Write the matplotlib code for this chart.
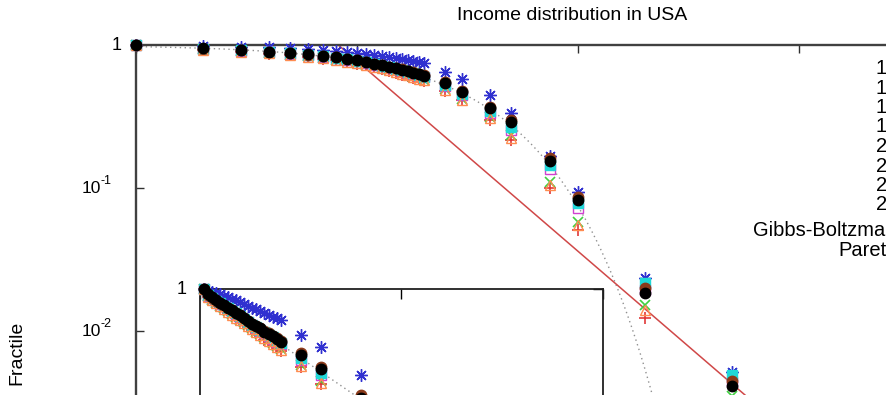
import numpy as np
import matplotlib.pyplot as plt
from matplotlib.ticker import NullLocator, FixedLocator
from matplotlib.transforms import blended_transform_factory

plt.rcParams['font.family'] = ['Liberation Sans', 'DejaVu Sans']

# income brackets (k$)
income = [1, 2, 3, 4, 5, 6, 7, 8, 9, 10, 11, 12, 13, 14, 15, 16, 17, 18, 19, 20,
          25, 30, 40, 50, 75, 100, 200, 500]

# cumulative fraction of returns above each bracket, per tax year
frac_1996 = [1.0, 0.93, 0.90, 0.87, 0.845, 0.825, 0.80, 0.78, 0.76, 0.74, 0.72, 0.70, 0.68, 0.66,
             0.64, 0.62, 0.605, 0.59, 0.575, 0.56, 0.48, 0.41, 0.30, 0.217, 0.10, 0.051, 0.0123, 0.0028]
frac_1997 = [1.0, 0.935, 0.905, 0.88, 0.855, 0.835, 0.815, 0.79, 0.77, 0.75, 0.73, 0.71, 0.69, 0.67,
             0.655, 0.635, 0.62, 0.60, 0.585, 0.57, 0.49, 0.42, 0.315, 0.235, 0.11, 0.058, 0.0152, 0.0035]
frac_1998 = [1.0, 0.985, 0.975, 0.965, 0.95, 0.94, 0.925, 0.91, 0.90, 0.885, 0.87, 0.855, 0.84, 0.825,
             0.81, 0.80, 0.785, 0.77, 0.76, 0.748, 0.647, 0.578, 0.445, 0.335, 0.168, 0.094, 0.0235, 0.0052]
frac_1999 = [1.0, 0.94, 0.915, 0.89, 0.87, 0.85, 0.83, 0.81, 0.79, 0.77, 0.75, 0.73, 0.71, 0.69,
             0.675, 0.66, 0.64, 0.625, 0.61, 0.595, 0.515, 0.445, 0.335, 0.255, 0.135, 0.072, 0.0195, 0.0044]
frac_2000 = [1.0, 0.945, 0.92, 0.895, 0.875, 0.855, 0.835, 0.815, 0.795, 0.775, 0.755, 0.735, 0.715, 0.70,
             0.68, 0.665, 0.65, 0.635, 0.62, 0.60, 0.525, 0.455, 0.345, 0.265, 0.145, 0.078, 0.0215, 0.0049]
frac_2001 = [1.0, 0.945, 0.92, 0.895, 0.875, 0.855, 0.835, 0.82, 0.80, 0.78, 0.76, 0.74, 0.72, 0.705,
             0.69, 0.675, 0.66, 0.645, 0.63, 0.615, 0.55, 0.48, 0.37, 0.30, 0.162, 0.087, 0.020, 0.0045]
frac_2002 = [1.0, 0.93, 0.90, 0.875, 0.85, 0.83, 0.805, 0.785, 0.765, 0.745, 0.725, 0.705, 0.685, 0.665,
             0.648, 0.63, 0.612, 0.595, 0.58, 0.565, 0.485, 0.415, 0.31, 0.225, 0.105, 0.055, 0.014, 0.0032]
frac_2003 = [1.0, 0.95, 0.925, 0.90, 0.88, 0.86, 0.84, 0.82, 0.80, 0.78, 0.76, 0.74, 0.72, 0.705,
             0.69, 0.67, 0.655, 0.64, 0.625, 0.61, 0.54, 0.47, 0.36, 0.29, 0.155, 0.083, 0.0184, 0.0041]

years = ['1996', '1997', '1998', '1999', '2000', '2001', '2002', '2003']
fractions = [frac_1996, frac_1997, frac_1998, frac_1999, frac_2000, frac_2001, frac_2002, frac_2003]

# fit parameters
T_exp = 38.5          # k$, Gibbs-Boltzmann temperature
pareto_c = 16.5
pareto_alpha = 1.33

styles = [
    dict(marker='+', color='#e03838', mfc='none', ms=8, mew=1.2),
    dict(marker='x', color='#40d040', mfc='none', ms=7, mew=1.2),
    dict(marker=(8, 2, 0), color='#3030d0', mfc='none', ms=9, mew=1.0),
    dict(marker='s', color='#d040d0', mfc='none', ms=7, mew=1.0),
    dict(marker='s', color='#20d8d8', mfc='#20d8d8', ms=7, mew=1.0),
    dict(marker='o', color='#8b3a1a', mfc='#8b3a1a', ms=7.5, mew=1.0),
    dict(marker='^', color='#ff8c50', mfc='none', ms=7, mew=1.0),
    dict(marker='o', color='#000000', mfc='#000000', ms=7.5, mew=1.0),
]

W, H = 887, 395
fig = plt.figure(figsize=(W / 100, H / 100), dpi=100)


def fx(px):
    return px / W


def fy(px):
    return 1 - px / H


# main log-log panel: 1..1e4 on x, 1e-4..1 on y
ax = fig.add_axes([fx(136), fy(45 + 572), 884 / W, 572 / H])
ax.set_xscale('log')
ax.set_yscale('log')
ax.set_xlim(1, 1e4)
ax.set_ylim(1e-4, 1)

x = np.array(income, dtype=float)
for frac, st in zip(fractions, styles):
    ax.plot(x, frac, ls='none', clip_on=False, zorder=3, **st)

xs = np.logspace(0, 4, 600)
ax.plot(xs, np.exp(-xs / T_exp), ls=(0, (1, 2.5)), color='#909090', lw=1.0, zorder=2)
ax.plot(xs, pareto_c * xs ** -pareto_alpha, color='#d04848', lw=1.1, zorder=2)

ax.xaxis.set_major_locator(FixedLocator([1, 10, 100, 1000, 10000]))
ax.yaxis.set_major_locator(FixedLocator([1e-4, 1e-3, 1e-2, 1e-1, 1]))
ax.xaxis.set_minor_locator(NullLocator())
ax.yaxis.set_minor_locator(NullLocator())
ax.tick_params(direction='in', length=6, width=1.0, color='#303030',
               top=True, right=True, labelleft=False, labelbottom=False)
for side in ax.spines:
    ax.spines[side].set_color('#404040')
    ax.spines[side].set_linewidth(1.7)

# y tick labels, gnuplot style: "10" with a raised exponent
ylab_tr = blended_transform_factory(fig.transFigure, ax.transData)
ax.text(fx(122), 1, '1', transform=ylab_tr, ha='right', va='center', fontsize=13)
for val, expo in [(1e-1, '-1'), (1e-2, '-2')]:
    ax.text(fx(101), val, '10', transform=ylab_tr, ha='right', va='center', fontsize=12.5)
    ax.text(fx(101), val * 10 ** 0.05, expo, transform=ylab_tr, ha='left', va='center', fontsize=9)

# key: labels run past the right edge of the canvas
key_rows = [67, 86.5, 106, 125.5, 145, 164.5, 184, 203.5, 229, 249]
key_left = [876] * len(years) + [753, 838]
key_labels = years + ['Gibbs-Boltzmann', 'Pareto']
for yy, xx, lab in zip(key_rows, key_left, key_labels):
    fig.text(fx(xx), fy(yy + 7), lab, ha='left', va='baseline', fontsize=14.5)

fig.text(fx(572), fy(16), 'Income distribution in USA', ha='center', va='center', fontsize=14)
fig.text(fx(17), fy(353), 'Fractile', rotation=90, ha='center', va='center', fontsize=14)

# inset: log-linear view of the low-income part
ins = fig.add_axes([fx(200), fy(289 + 245), 403 / W, 245 / H])
ins.set_yscale('log')
ins.set_xlim(0, 100)
ins.set_ylim(0.1, 1)
keep = x <= 100
for frac, st in zip(fractions, styles):
    ins.plot(x[keep], np.array(frac)[keep], ls='none', clip_on=False, zorder=3, **st)
xl = np.linspace(0, 100, 300)
ins.plot(xl, np.exp(-xl / T_exp), ls=(0, (1, 2.5)), color='#909090', lw=1.0, zorder=2)
ins.xaxis.set_major_locator(FixedLocator([0, 50, 100]))
ins.yaxis.set_major_locator(FixedLocator([0.1, 1]))
ins.yaxis.set_minor_locator(NullLocator())
ins.tick_params(direction='in', length=7, width=1.0, color='#000000',
                top=True, right=True, labelleft=False, labelbottom=False)
for side in ins.spines:
    ins.spines[side].set_color('#202020')
    ins.spines[side].set_linewidth(1.3)
ins_tr = blended_transform_factory(fig.transFigure, ins.transData)
ins.text(fx(187), 1, '1', transform=ins_tr, ha='right', va='center', fontsize=13)

fig.savefig('out.png', dpi=100)
